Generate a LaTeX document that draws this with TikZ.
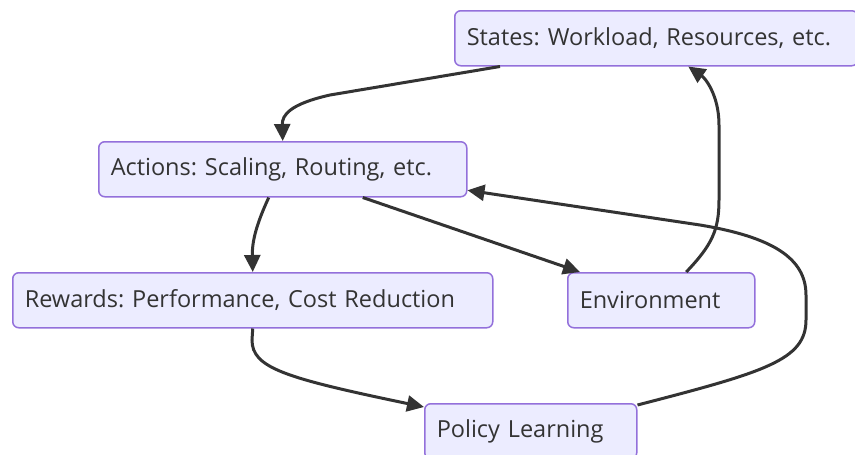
\documentclass[tikz,border=0pt]{standalone}
\usepackage{fontspec}
\setmainfont{Open Sans}
\usetikzlibrary{arrows.meta}
\definecolor{boxfill}{HTML}{ECECFF}
\definecolor{boxline}{HTML}{9370DB}
\definecolor{ink}{HTML}{333333}
\frenchspacing
\tikzset{
	stage/.style={draw=boxline, fill=boxfill, line width=1.5pt, rounded corners=6pt,
		minimum height=55pt, inner xsep=12pt, inner ysep=0pt, text width=#1,
		align=left, anchor=north west, text=ink, font=\fontsize{23.5}{28}\selectfont},
	flow/.style={draw=ink, line width=3pt, -{Triangle[length=17pt,width=16pt]}}
}
\begin{document}
\begin{tikzpicture}[x=1pt,y=-1pt]
	\useasboundingbox (0,0) rectangle (855,455);

	\node[stage=379pt] (states) at (454,10) {States: Workload, Resources, etc.};
	\node[stage=344pt] (actions) at (98,141) {Actions: Scaling, Routing, etc.};
	\node[stage=456pt] (rewards) at (12,272) {Rewards: Performance, Cost Reduction};
	\node[stage=163pt] (environment) at (567,272) {Environment};
	\node[stage=188pt] (policy) at (424,403) {Policy Learning};

	\draw[flow] ([xshift=46pt]states.south west) -- (330,95)
		.. controls (290,104) and (282,115) .. (actions.north);
	\draw[flow] ([xshift=-14pt]actions.south) .. controls (256,225) and (252,242) .. (rewards.north);
	\draw[flow] ([xshift=80pt]actions.south) -- ([xshift=13pt]environment.north west);
	\draw[flow] ([xshift=25pt]environment.north) .. controls (712,245) and (719,230) .. (719,200)
		-- (719,125) .. controls (719,95) and (705,78) .. ([xshift=32pt]states.south);
	\draw[flow] (rewards.south) -- (252,340) .. controls (252,368) and (285,378) .. ([yshift=-4pt]policy.north west);
	\draw[flow] ([yshift=-2pt]policy.north east) .. controls (765,372) and (806,360) .. (806,320)
		-- (806,295) .. controls (806,258) and (772,237) .. (700,225) -- ([yshift=-21pt]actions.east);
\end{tikzpicture}
\end{document}
